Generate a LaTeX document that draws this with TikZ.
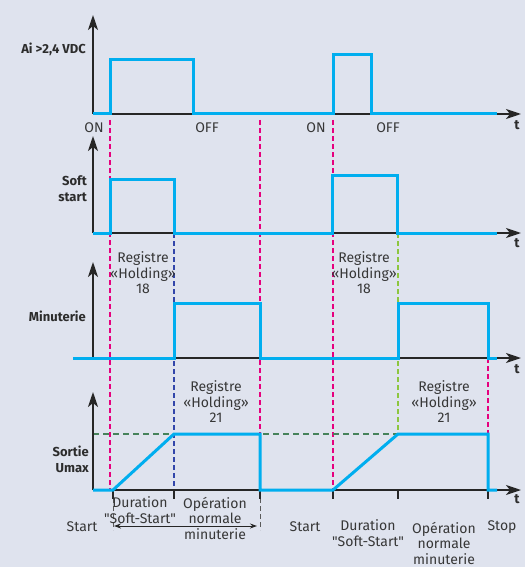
\documentclass[tikz,border=0pt]{standalone}
\usepackage{fontspec}
\setmainfont{Fira Sans}[Ligatures=TeXOff]
\usetikzlibrary{arrows.meta}
\definecolor{bg}{RGB}{223,227,238}
\definecolor{sig}{RGB}{0,174,239}
\definecolor{mag}{RGB}{230,0,126}
\definecolor{dblue}{RGB}{50,70,170}
\definecolor{lgreen}{RGB}{141,198,63}
\definecolor{dgreen}{RGB}{70,130,90}
\definecolor{txt}{RGB}{55,55,55}
\definecolor{gdash}{RGB}{90,90,90}
\begin{document}
\begin{tikzpicture}[x=1pt,y=-1pt,
  axis/.style={line width=2pt,black!85,-{Stealth[length=15pt,width=10pt,inset=4pt]}},
  signal/.style={line width=3pt,sig,line join=miter},
  vdash/.style={line width=1.3pt,dash pattern=on 5pt off 3pt},
  tickmark/.style={line width=1.3pt,black!85},
  lbl/.style={inner sep=0pt,text=txt,font=\fontsize{14}{15.5}\selectfont,align=center},
  blbl/.style={inner sep=0pt,text=txt!80!black,font=\bfseries\fontsize{13}{16}\selectfont,align=right},
  tlbl/.style={inner sep=0pt,text=txt!80!black,font=\bfseries\fontsize{13.5}{14}\selectfont}]
\fill[bg] (0,0) rectangle (525,567);
\useasboundingbox (0,0) rectangle (525,567);

% vertical coloured guides
\draw[vdash,mag] (110,120) -- (110,490);
\draw[vdash,mag] (260,120) -- (260,490);
\draw[vdash,mag] (333,120) -- (333,490);
\draw[vdash,dblue] (174,233) -- (174,490);
\draw[vdash,lgreen] (398,233) -- (398,434);
\draw[vdash,mag] (488,358) -- (488,434);
\draw[line width=1.3pt,dgreen,dash pattern=on 6pt off 4pt] (93,434) -- (398,434);
% below-baseline dashes
\draw[vdash,gdash,line width=1pt] (113,498) -- (113,530);
\draw[vdash,gdash,line width=1pt] (260,498) -- (260,530);

% axes
\coordinate (o1) at (93,114); \coordinate (y1) at (93,15); \coordinate (x1) at (521,114);
\coordinate (o2) at (93,233); \coordinate (y2) at (93,136); \coordinate (x2) at (521,233);
\coordinate (o3) at (93,358); \coordinate (y3) at (93,262); \coordinate (x3) at (521,358);
\coordinate (o4) at (93,490); \coordinate (y4) at (93,392); \coordinate (x4) at (521,490);
\foreach \i in {1,2,3,4}{
  \draw[axis] (o\i) -- (y\i);
  \draw[axis] (o\i) -- (x\i);
}
% ticks
\foreach \x in {113,174,260,333,398,488}
  \draw[tickmark] (\x,490) -- (\x,499);

% signals
\draw[signal] (93,114) -- (110,114) -- (110,60) -- (193,60) -- (193,114) -- (333,114) -- (333,55) -- (371,55) -- (371,114) -- (497,114);
\draw[signal] (93,233) -- (110,233) -- (110,179) -- (174,179) -- (174,233) -- (332,233) -- (332,175) -- (397,175) -- (397,233) -- (497,233);
\draw[signal] (73,358) -- (174,358) -- (174,303) -- (260,303) -- (260,358) -- (398,358) -- (398,303) -- (488,303) -- (488,358) -- (497,358);
\draw[signal] (93,490) -- (113,490) -- (174,434) -- (260,434) -- (260,490) -- (333,490) -- (398,434) -- (488,434) -- (488,490) -- (497,490);

% double arrow
\coordinate (da) at (114,526); \coordinate (db) at (257,526);
\draw[line width=1pt,black!85,{Stealth[length=7pt,width=5pt]}-{Stealth[length=7pt,width=5pt]}] (da) -- (db);

% axis labels
\node[blbl,anchor=east] (l1) at (86,49) {Ai >2,4 VDC};
\node[blbl,anchor=east] (l2) at (87,189) {Soft\\start};
\node[blbl,anchor=east] (l3) at (86,316) {Minuterie};
\node[blbl,anchor=east] (l4) at (89,459) {Sortie\\Umax};
\node[tlbl] (t1) at (517,125) {t};
\node[tlbl] (t2) at (517,243) {t};
\node[tlbl] (t3) at (517,369) {t};
\node[tlbl] (t4) at (517,499) {t};

% panel 1 labels
\node[lbl] (on1) at (94,128) {ON};
\node[lbl] (off1) at (207,128) {OFF};
\node[lbl] (on2) at (316,128) {ON};
\node[lbl] (off2) at (388,128) {OFF};

% registers
\node[lbl] (r18a) at (143,273) {Registre\\«Holding»\\18};
\node[lbl] (r18b) at (364,273) {Registre\\«Holding»\\18};
\node[lbl] (r21a) at (216,402) {Registre\\«Holding»\\21};
\node[lbl] (r21b) at (444,402) {Registre\\«Holding»\\21};

% bottom labels group 1
\node[lbl] (st1) at (82,527) {Start};
\node[lbl] (du1) at (140,510) {Duration\\"Soft-Start"};
\node[lbl] (op1) at (215,518) {Opération\\normale\\minuterie};
% group 2
\node[lbl] (st2) at (305,527) {Start};
\node[lbl] (du2) at (368,533) {Duration\\"Soft-Start"};
\node[lbl] (op2) at (444,543) {Opération\\normale\\minuterie};
\node[lbl] (sp2) at (502,527) {Stop};
\end{tikzpicture}
\end{document}
